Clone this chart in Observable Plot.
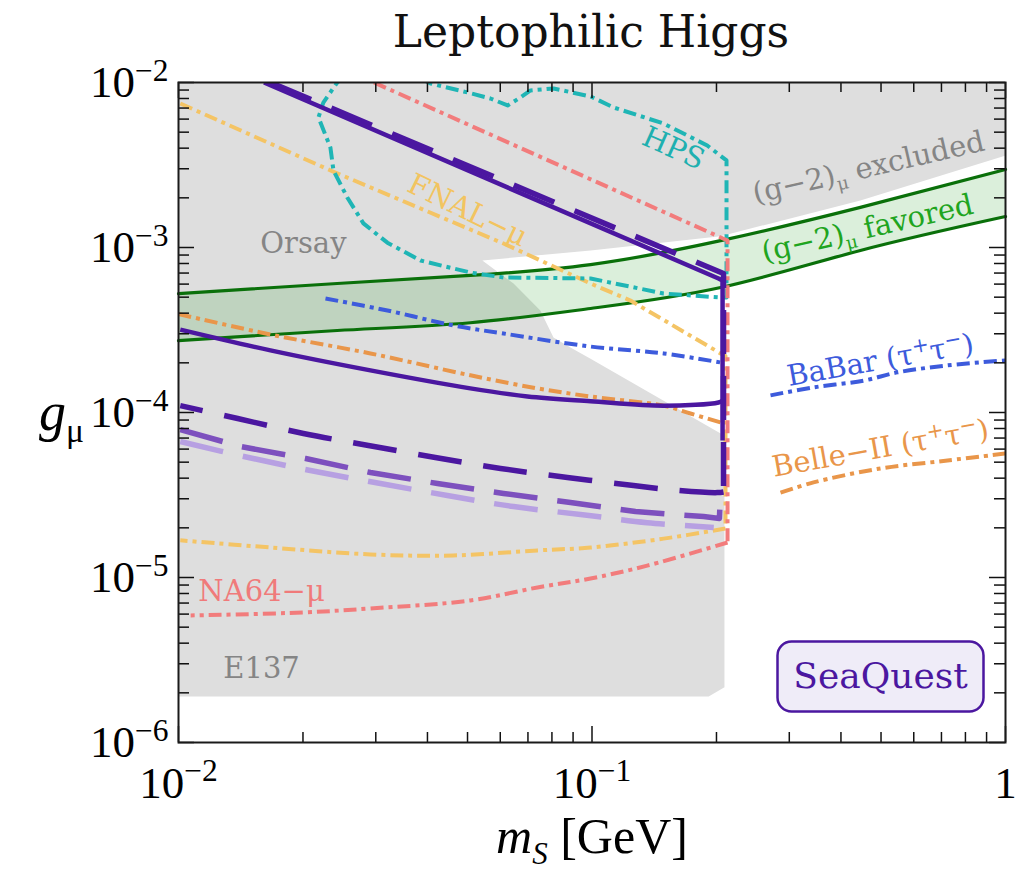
<!DOCTYPE html>
<html><head><meta charset="utf-8">
<script src="https://cdn.jsdelivr.net/npm/d3@7"></script>
<script src="https://cdn.jsdelivr.net/npm/@observablehq/plot@0.6"></script>
<style>
body{margin:0;background:#fff;}
#title{width:1028px;height:60px;position:relative;font-family:"DejaVu Serif",serif;font-size:44px;color:#111;}
#title span{position:absolute;left:591px;top:10px;transform:translateX(-50%);white-space:nowrap;line-height:1;}
svg text{white-space:pre;}
</style></head>
<body><div id="title"><span>Leptophilic Higgs</span></div><div id="chart"></div>
<script>
// ---------- data (m_S [GeV], g_mu) ----------
const grayRegion = [
  [0.01,1e-2],[1,1e-2],[1,3.61e-3],[0.4457,1.93e-3],[0.2047,1.17e-3],[0.0992,9.6e-4],
  [0.0543,8.34e-4],[0.0646,6.05e-4],[0.0750,4.15e-4],[0.0807,2.85e-4],[0.0887,2.48e-4],
  [0.0992,2.12e-4],[0.2047,7.46e-5],[0.2091,7.3e-5],[0.2091,2.16e-6],[0.1915,1.9e-6],[0.01,1.9e-6]
];
const gm2Mass  = [0.01, 0.0242, 0.0508, 0.0992, 0.2047, 0.4457, 1];
const gm2Upper = [5.26e-4, 6.05e-4, 6.77e-4, 7.88e-4, 1.10e-3, 1.75e-3, 2.97e-3];
const gm2Lower = [2.73e-4, 3.14e-4, 3.50e-4, 4.27e-4, 5.72e-4, 9.59e-4, 1.54e-3];

const seaquestSolidUpper = [[0.0161,1e-2],[0.2023,6.49e-4],[0.2069,6.3e-4],[0.2069,6.77e-5]];
const seaquestSolidLower = [[0.0101,3.18e-4],[0.01669,2.38e-4],[0.02912,1.80e-4],[0.0508,1.40e-4],
  [0.0698,1.25e-4],[0.0992,1.17e-4],[0.149,1.10e-4],[0.2023,1.15e-4],[0.2069,1.18e-4]];
const seaquestDashDark = [[0.01669,1e-2],[0.208,6.95e-4],[0.208,3.3e-5],[0.201,3.27e-5],[0.161,3.37e-5],
  [0.126,3.61e-5],[0.0872,4.04e-5],[0.0601,4.58e-5],[0.0418,5.34e-5],[0.0288,6.31e-5],
  [0.02005,7.46e-5],[0.0139,9.2e-5],[0.0101,1.10e-4]];
const seaquestDashMid = [[0.0101,7.88e-5],[0.01413,6.22e-5],[0.0203,5.26e-5],[0.02912,4.33e-5],
  [0.0423,3.71e-5],[0.0611,3.23e-5],[0.0887,2.85e-5],[0.1274,2.51e-5],[0.1862,2.34e-5],
  [0.2033,2.28e-5],[0.2045,3.25e-5]];
const seaquestDashLight = [[0.0101,6.67e-5],[0.01476,5.34e-5],[0.02145,4.39e-5],[0.0308,3.71e-5],
  [0.0447,3.14e-5],[0.0646,2.69e-5],[0.0938,2.41e-5],[0.136,2.15e-5],[0.197,2.01e-5]];

const hps = [[0.0385,0.0106],[0.0407,0.00986],[0.0500,0.00870],[0.0568,0.00800],[0.0625,0.00726],
  [0.0671,0.00811],[0.0710,0.00895],[0.0807,0.00920],[0.0992,0.00823],[0.1127,0.00706],
  [0.149,0.00564],[0.190,0.00415],[0.2115,0.00337],[0.2115,0.000498],[0.2047,0.000498],
  [0.149,0.000526],[0.0992,0.000649],[0.0611,0.000658],[0.0508,0.000705],[0.0385,0.000834],
  [0.0320,0.00107],[0.0280,0.00140],[0.0256,0.00201],[0.0237,0.00293],[0.0233,0.00404],
  [0.0218,0.00614],[0.0224,0.00756],[0.0242,0.0100],[0.0253,0.0110]];
const na64 = [[0.0297,0.01],[0.2127,1.103e-3],[0.2127,1.63e-5],[0.136,1.18e-5],[0.0992,9.86e-6],
  [0.0738,8.70e-6],[0.0508,7.26e-6],[0.02912,6.49e-6],[0.02005,6.14e-6],[0.0107,5.89e-6]];
const fnal = [[0.0101,7.46e-3],[0.02332,2.93e-3],[0.0611,1.057e-3],[0.0992,6.05e-4],[0.1239,4.77e-4],
  [0.2047,2.28e-4],[0.2103,2.2e-4],[0.2103,1.98e-5],[0.149,1.72e-5],[0.0992,1.52e-5],
  [0.0738,1.46e-5],[0.0462,1.36e-5],[0.02912,1.38e-5],[0.01669,1.52e-5],[0.0101,1.68e-5]];
const belleLeft = [[0.01,3.95e-4],[0.01669,2.97e-4],[0.02912,2.28e-4],[0.0508,1.68e-4],[0.0738,1.40e-4],
  [0.0992,1.25e-4],[0.149,1.10e-4],[0.173,9.86e-5],[0.2047,8.70e-5]];
const belleRight = [[0.2857,3.27e-5],[0.3433,3.77e-5],[0.4985,4.58e-5],[0.7240,5.12e-5],[1,5.64e-5]];
const babarLeft = [[0.02267,4.91e-4],[0.03202,4.15e-4],[0.0462,3.37e-4],[0.0611,3.01e-4],
  [0.0992,2.51e-4],[0.149,2.28e-4],[0.2047,2.01e-4]];
const babarRight = [[0.2702,1.27e-4],[0.3433,1.42e-4],[0.4536,1.56e-4],[0.5481,1.75e-4],
  [0.7240,1.93e-4],[1,2.07e-4]];

const xMajor = [0.01, 0.1, 1];
const xTickLabels = ["10^{−2}", "10^{−1}", "1"];
const yMajor = [1e-6, 1e-5, 1e-4, 1e-3, 1e-2];
const yTickLabels = ["10^{−6}", "10^{−5}", "10^{−4}", "10^{−3}", "10^{−2}"];
const minorMultipliers = [2, 3, 4, 5, 6, 7, 8, 9];

const labelTexts  = ["Orsay","E137","NA64−μ","FNAL−μ","HPS","(g−2)_{μ} excluded","(g−2)_{μ} favored","BaBar (τ^{+}τ^{−})","Belle−II (τ^{+}τ^{−})"];
const labelMass   = [0.02005, 0.01588, 0.01588, 0.0500, 0.1574, 0.4664, 0.4636, 0.4985, 0.4985];
const labelCoup   = [1.057e-3, 2.81e-6, 8.22e-6, 1.676e-3, 3.98e-3, 3.05e-3, 1.30e-3, 2.07e-4, 6.05e-5];
const labelAngle  = [0, 0, 0, 26, 24, -13, -13, -10, -10];
const labelColor  = ["#858585","#858585","#f07a7a","#f2c460","#1fb0b0","#858585","#1fa51f","#3d5bdc","#e9964a"];

// ---------- build ----------
const pts = arr => arr.map(([m, g]) => ({m, g}));
const xMinor = xMajor.slice(0, -1).flatMap(d => minorMultipliers.map(k => d * k));
const yMinor = yMajor.slice(0, -1).flatMap(d => minorMultipliers.map(k => d * k));
const gm2Band = gm2Mass.map((m, i) => ({m, lo: gm2Lower[i], hi: gm2Upper[i]}));

const W = 1028, H = 830, ML = 178, MR = 23, MT = 22, MB = 148;
const FW = W - ML - MR, FH = H - MT - MB;
const dashDot = "13,5,4,5";
const ln = (arr, o) => Plot.line(pts(arr), {x: "m", y: "g", clip: true, strokeLinecap: "butt", strokeLinejoin: "round", ...o});
const smooth = {curve: "catmull-rom"};

const DARK = "#4b17a0", MID = "#7d50be", LIGHT = "#b7a0e2";
const serif = "'DejaVu Serif', serif", times = "'Liberation Serif', 'Times New Roman', serif";
const dd = {strokeWidth: 4, strokeDasharray: dashDot};

const marks = [
  Plot.line(pts(grayRegion), {x: "m", y: "g", fill: "#dedede", stroke: "none", clip: true}),
  Plot.areaY(gm2Band, {x: "m", y1: "lo", y2: "hi", fill: "#2ca02c", fillOpacity: 0.17, curve: "natural"}),
  Plot.line(gm2Band, {x: "m", y: "hi", stroke: "#0a700a", strokeWidth: 3.2, curve: "natural"}),
  Plot.line(gm2Band, {x: "m", y: "lo", stroke: "#0a700a", strokeWidth: 3.2, curve: "natural"}),
  ln(fnal.slice(0, 8), {stroke: "#f4c465", ...dd}),
  ln(fnal.slice(7), {stroke: "#f4c465", ...dd, ...smooth}),
  ln(belleLeft, {stroke: "#e9964a", ...dd, ...smooth}),
  ln(belleRight, {stroke: "#e9964a", ...dd, ...smooth}),
  ln(babarLeft, {stroke: "#3d5bdc", ...dd, ...smooth}),
  ln(babarRight, {stroke: "#3d5bdc", ...dd, ...smooth}),
  ln(hps, {stroke: "#1fb5b5", ...dd}),
  ln(na64.slice(0, 3), {stroke: "#f27c7c", ...dd}),
  ln(na64.slice(2), {stroke: "#f27c7c", ...dd, ...smooth}),
  ln(seaquestDashLight, {stroke: LIGHT, strokeWidth: 5.5, strokeDasharray: "44,20", ...smooth}),
  ln(seaquestDashMid, {stroke: MID, strokeWidth: 5.5, strokeDasharray: "44,20"}),
  ln(seaquestDashDark.slice(0, 3), {stroke: DARK, strokeWidth: 5.5, strokeDasharray: "44,22"}),
  ln(seaquestDashDark.slice(2), {stroke: DARK, strokeWidth: 5.5, strokeDasharray: "44,22", ...smooth}),
  ln(seaquestSolidLower, {stroke: DARK, strokeWidth: 4.5, ...smooth}),
  ln(seaquestSolidUpper, {stroke: DARK, strokeWidth: 4.5}),
  // labels
  ...labelTexts.map((t, i) => Plot.text([t], {
    x: () => labelMass[i], y: () => labelCoup[i], rotate: labelAngle[i], fill: labelColor[i],
    fontSize: 29, fontFamily: serif, textAnchor: "middle", lineAnchor: "middle"
  })),
  // SeaQuest box
  Plot.frame({fill: "#efecf8", stroke: DARK, strokeWidth: 2.5, rx: 14,
    insetLeft: 599, insetRight: 22, insetTop: 559, insetBottom: 31}),
  Plot.text(["SeaQuest"], {frameAnchor: "bottom-right", dx: -125, dy: -66, textAnchor: "middle",
    lineAnchor: "middle", fontSize: 36, fill: DARK, fontFamily: serif}),
  // ticks (inward, on all four sides)
  Plot.tickX(xMajor, {x: d => d, insetTop: FH - 16, stroke: "#111", strokeWidth: 1.5}),
  Plot.tickX(xMajor, {x: d => d, insetBottom: FH - 16, stroke: "#111", strokeWidth: 1.5}),
  Plot.tickX(xMinor, {x: d => d, insetTop: FH - 10, stroke: "#111", strokeWidth: 1.5}),
  Plot.tickX(xMinor, {x: d => d, insetBottom: FH - 10, stroke: "#111", strokeWidth: 1.5}),
  Plot.tickY(yMajor, {y: d => d, insetRight: FW - 16, stroke: "#111", strokeWidth: 1.5}),
  Plot.tickY(yMajor, {y: d => d, insetLeft: FW - 16, stroke: "#111", strokeWidth: 1.5}),
  Plot.tickY(yMinor, {y: d => d, insetRight: FW - 11, stroke: "#111", strokeWidth: 1.5}),
  Plot.tickY(yMinor, {y: d => d, insetLeft: FW - 11, stroke: "#111", strokeWidth: 1.5}),
  Plot.frame({stroke: "#1a1a1a", strokeWidth: 2}),
  // tick labels
  Plot.text(xMajor, {x: d => d, text: (d, i) => xTickLabels[i], frameAnchor: "bottom", dy: 55,
    lineAnchor: "bottom", textAnchor: "middle", fontSize: 45, fontFamily: times, fill: "#000"}),
  Plot.text(yMajor, {y: d => d, text: (d, i) => yTickLabels[i], frameAnchor: "left", dx: -10,
    lineAnchor: "middle", textAnchor: "end", fontSize: 45, fontFamily: times, fill: "#000"}),
  // axis titles
  Plot.text(["*m*%{S} [GeV]"], {frameAnchor: "bottom", dy: 110, lineAnchor: "bottom",
    textAnchor: "middle", fontSize: 50, fontFamily: times, fill: "#000"}),
  Plot.text(["*g*_{μ}"], {frameAnchor: "left", dx: -117, lineAnchor: "middle", textAnchor: "middle",
    fontSize: 54, fontFamily: times, fill: "#000"})
];

const svg = Plot.plot({
  width: W, height: H, marginLeft: ML, marginRight: MR, marginTop: MT, marginBottom: MB,
  x: {type: "log", domain: [0.01, 1], axis: null},
  y: {type: "log", domain: [1e-6, 1e-2], axis: null},
  style: {background: "white", overflow: "visible"},
  marks
});
document.getElementById("chart").appendChild(svg);

// rich text: ^{sup}, _{sub}, %{italic sub}, *italic*
const NS = "http://www.w3.org/2000/svg";
svg.querySelectorAll("text").forEach(t => {
  const s = t.textContent;
  if (!/\^\{|_\{|%\{|\*/.test(s)) return;
  const fs = parseFloat(getComputedStyle(t).fontSize) || 20;
  const re = /\^\{([^}]*)\}|_\{([^}]*)\}|%\{([^}]*)\}|\*([^*]*)\*/g;
  const segs = []; let last = 0, mm;
  while ((mm = re.exec(s))) {
    if (mm.index > last) segs.push({text: s.slice(last, mm.index), type: "n"});
    if (mm[1] !== undefined) segs.push({text: mm[1], type: "sup"});
    else if (mm[2] !== undefined) segs.push({text: mm[2], type: "sub"});
    else if (mm[3] !== undefined) segs.push({text: mm[3], type: "isub"});
    else segs.push({text: mm[4], type: "it"});
    last = re.lastIndex;
  }
  if (last < s.length) segs.push({text: s.slice(last), type: "n"});
  t.textContent = "";
  let cur = 0;
  for (const sg of segs) {
    const ts = document.createElementNS(NS, "tspan");
    ts.textContent = sg.text;
    let target = 0;
    if (sg.type === "sup") { ts.setAttribute("font-size", fs * 0.7); target = -fs * 0.36; }
    if (sg.type === "sub" || sg.type === "isub") { ts.setAttribute("font-size", fs * 0.62); target = fs * 0.22; }
    if (sg.type === "it" || sg.type === "isub") ts.setAttribute("font-style", "italic");
    if (target - cur !== 0) ts.setAttribute("dy", target - cur);
    cur = target;
    t.appendChild(ts);
  }
});
</script>
</body></html>
